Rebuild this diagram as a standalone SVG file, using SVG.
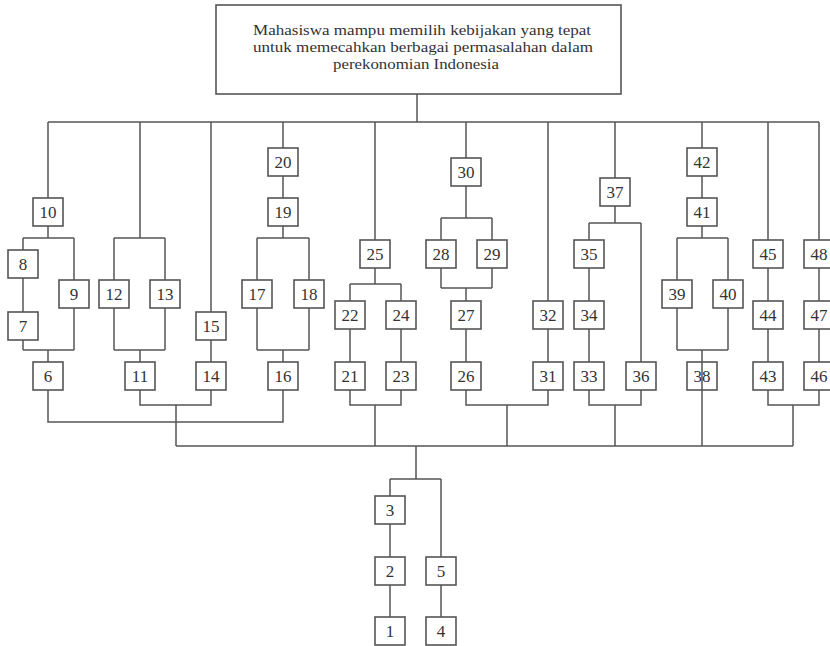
<svg xmlns="http://www.w3.org/2000/svg" width="830" height="646" viewBox="0 0 830 646">
<style>
.bx{fill:#fff;stroke:#555;stroke-width:1.6}
.lb{font-size:17px;fill:#333;text-anchor:middle}
.tt{font-size:15.5px;fill:#333;text-anchor:middle}
.cn{fill:none;stroke:#555;stroke-width:1.5}
</style>
<rect width="830" height="646" fill="#fff"/>
<g id="goal" font-family="'Liberation Serif', 'DejaVu Serif', serif">
<rect class="bx" x="216" y="5" width="405" height="89"/>
<text class="tt" x="422" y="35" textLength="338" lengthAdjust="spacingAndGlyphs">Mahasiswa mampu memilih kebijakan yang tepat</text>
<text class="tt" x="423" y="52" textLength="340" lengthAdjust="spacingAndGlyphs">untuk memecahkan berbagai permasalahan dalam</text>
<text class="tt" x="416" y="69" textLength="166" lengthAdjust="spacingAndGlyphs">perekonomian Indonesia</text>
</g>
<g id="nodes" font-family="'Liberation Serif', 'DejaVu Serif', serif">
<g id="n10"><rect class="bx" x="33" y="198" width="30" height="28"/><text class="lb" x="48" y="218">10</text></g>
<g id="n8"><rect class="bx" x="8" y="250" width="30" height="28"/><text class="lb" x="23" y="270">8</text></g>
<g id="n9"><rect class="bx" x="59" y="280" width="30" height="28"/><text class="lb" x="74" y="300">9</text></g>
<g id="n7"><rect class="bx" x="8" y="312" width="30" height="28"/><text class="lb" x="23" y="332">7</text></g>
<g id="n6"><rect class="bx" x="33" y="362" width="30" height="28"/><text class="lb" x="48" y="382">6</text></g>
<g id="n12"><rect class="bx" x="99" y="280" width="30" height="28"/><text class="lb" x="114" y="300">12</text></g>
<g id="n13"><rect class="bx" x="150" y="280" width="30" height="28"/><text class="lb" x="165" y="300">13</text></g>
<g id="n11"><rect class="bx" x="125" y="362" width="30" height="28"/><text class="lb" x="140" y="382">11</text></g>
<g id="n15"><rect class="bx" x="196" y="312" width="30" height="28"/><text class="lb" x="211" y="332">15</text></g>
<g id="n14"><rect class="bx" x="196" y="362" width="30" height="28"/><text class="lb" x="211" y="382">14</text></g>
<g id="n20"><rect class="bx" x="268" y="148" width="30" height="28"/><text class="lb" x="283" y="168">20</text></g>
<g id="n19"><rect class="bx" x="268" y="198" width="30" height="28"/><text class="lb" x="283" y="218">19</text></g>
<g id="n17"><rect class="bx" x="242" y="280" width="30" height="28"/><text class="lb" x="257" y="300">17</text></g>
<g id="n18"><rect class="bx" x="294" y="280" width="30" height="28"/><text class="lb" x="309" y="300">18</text></g>
<g id="n16"><rect class="bx" x="268" y="362" width="30" height="28"/><text class="lb" x="283" y="382">16</text></g>
<g id="n25"><rect class="bx" x="360" y="240" width="30" height="28"/><text class="lb" x="375" y="260">25</text></g>
<g id="n22"><rect class="bx" x="335" y="301" width="30" height="28"/><text class="lb" x="350" y="321">22</text></g>
<g id="n24"><rect class="bx" x="386" y="301" width="30" height="28"/><text class="lb" x="401" y="321">24</text></g>
<g id="n21"><rect class="bx" x="335" y="362" width="30" height="28"/><text class="lb" x="350" y="382">21</text></g>
<g id="n23"><rect class="bx" x="386" y="362" width="30" height="28"/><text class="lb" x="401" y="382">23</text></g>
<g id="n30"><rect class="bx" x="451" y="158" width="30" height="28"/><text class="lb" x="466" y="178">30</text></g>
<g id="n28"><rect class="bx" x="426" y="240" width="30" height="28"/><text class="lb" x="441" y="260">28</text></g>
<g id="n29"><rect class="bx" x="477" y="240" width="30" height="28"/><text class="lb" x="492" y="260">29</text></g>
<g id="n27"><rect class="bx" x="451" y="301" width="30" height="28"/><text class="lb" x="466" y="321">27</text></g>
<g id="n26"><rect class="bx" x="451" y="362" width="30" height="28"/><text class="lb" x="466" y="382">26</text></g>
<g id="n32"><rect class="bx" x="533" y="301" width="30" height="28"/><text class="lb" x="548" y="321">32</text></g>
<g id="n31"><rect class="bx" x="533" y="362" width="30" height="28"/><text class="lb" x="548" y="382">31</text></g>
<g id="n37"><rect class="bx" x="600" y="178" width="30" height="28"/><text class="lb" x="615" y="198">37</text></g>
<g id="n35"><rect class="bx" x="574" y="240" width="30" height="28"/><text class="lb" x="589" y="260">35</text></g>
<g id="n34"><rect class="bx" x="574" y="301" width="30" height="28"/><text class="lb" x="589" y="321">34</text></g>
<g id="n33"><rect class="bx" x="574" y="362" width="30" height="28"/><text class="lb" x="589" y="382">33</text></g>
<g id="n36"><rect class="bx" x="626" y="362" width="30" height="28"/><text class="lb" x="641" y="382">36</text></g>
<g id="n42"><rect class="bx" x="687" y="148" width="30" height="28"/><text class="lb" x="702" y="168">42</text></g>
<g id="n41"><rect class="bx" x="687" y="198" width="30" height="28"/><text class="lb" x="702" y="218">41</text></g>
<g id="n39"><rect class="bx" x="662" y="280" width="30" height="28"/><text class="lb" x="677" y="300">39</text></g>
<g id="n40"><rect class="bx" x="713" y="280" width="30" height="28"/><text class="lb" x="728" y="300">40</text></g>
<g id="n38"><rect class="bx" x="687" y="362" width="30" height="28"/><text class="lb" x="702" y="382">38</text></g>
<g id="n45"><rect class="bx" x="753" y="240" width="30" height="28"/><text class="lb" x="768" y="260">45</text></g>
<g id="n44"><rect class="bx" x="753" y="301" width="30" height="28"/><text class="lb" x="768" y="321">44</text></g>
<g id="n43"><rect class="bx" x="753" y="362" width="30" height="28"/><text class="lb" x="768" y="382">43</text></g>
<g id="n48"><rect class="bx" x="804" y="240" width="30" height="28"/><text class="lb" x="819" y="260">48</text></g>
<g id="n47"><rect class="bx" x="804" y="301" width="30" height="28"/><text class="lb" x="819" y="321">47</text></g>
<g id="n46"><rect class="bx" x="804" y="362" width="30" height="28"/><text class="lb" x="819" y="382">46</text></g>
<g id="n3"><rect class="bx" x="375" y="496" width="30" height="28"/><text class="lb" x="390" y="516">3</text></g>
<g id="n2"><rect class="bx" x="375" y="557" width="30" height="28"/><text class="lb" x="390" y="577">2</text></g>
<g id="n5"><rect class="bx" x="426" y="557" width="30" height="28"/><text class="lb" x="441" y="577">5</text></g>
<g id="n1"><rect class="bx" x="375" y="617" width="30" height="28"/><text class="lb" x="390" y="637">1</text></g>
<g id="n4"><rect class="bx" x="426" y="617" width="30" height="28"/><text class="lb" x="441" y="637">4</text></g>
</g>
<g id="connectors" class="cn">
<path d="M417 94V122M48 122H819"/>
<path d="M48 122V198M48 226V238M23 238H74M23 238V250M23 278V312M23 340V350M74 238V280M74 308V350M23 350H74M48 350V362M48 390V422H283V390"/>
<path d="M140 122V238M114 238H165M114 238V280M165 238V280M114 308V350M165 308V350M114 350H165M140 350V362M140 390V405H211V390M211 122V312M211 340V362M176 405V446"/>
<path d="M283 122V148M283 176V198M283 226V238M257 238H309M257 238V280M309 238V280M257 308V350M309 308V350M257 350H309M283 350V362"/>
<path d="M375 122V240M375 268V284M350 284H401M350 284V301M401 284V301M350 329V362M401 329V362M350 390V405H401V390M375 405V446"/>
<path d="M466 122V158M466 186V218M441 218H492M441 218V240M492 218V240M441 268V288M492 268V288M441 288H492M466 288V301M466 329V362M466 390V405H548V390M548 122V301M548 329V362M507 405V446"/>
<path d="M615 122V178M615 206V223M589 223H641M589 223V240M589 268V301M589 329V362M641 223V362M589 390V405H641V390M615 405V446"/>
<path d="M702 122V148M702 176V198M702 226V238M677 238H728M677 238V280M728 238V280M677 308V350M728 308V350M677 350H728M702 350V446"/>
<path d="M768 122V240M768 268V301M768 329V362M768 390V405H819V390M819 122V240M819 268V301M819 329V362M793 405V446"/>
<path d="M176 446H793M416 446V479M390 479H441M390 479V496M390 524V557M390 585V617M441 479V557M441 585V617"/>
</g>
</svg>
